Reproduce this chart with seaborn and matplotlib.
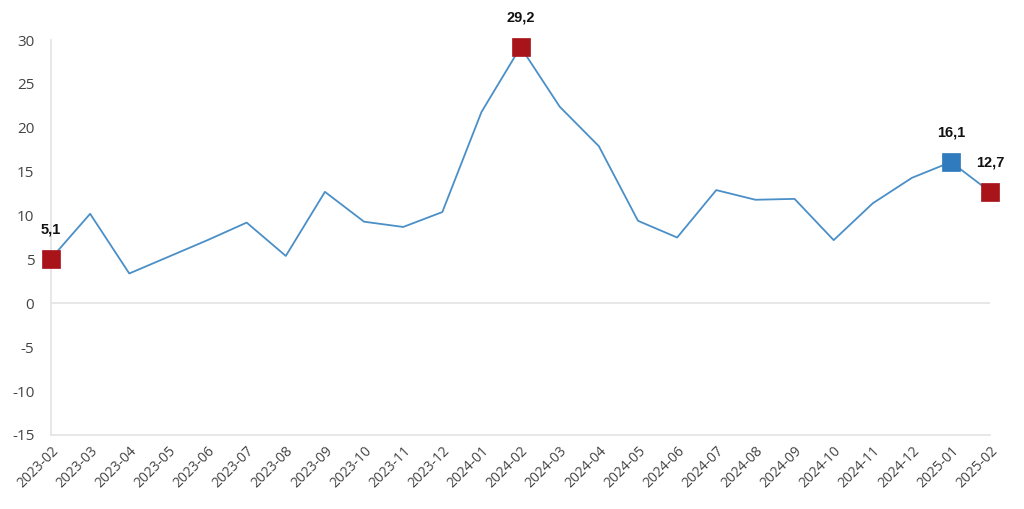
import pandas as pd
import seaborn as sns
import matplotlib.pyplot as plt

months = [
    "2023-02", "2023-03", "2023-04", "2023-05", "2023-06", "2023-07",
    "2023-08", "2023-09", "2023-10", "2023-11", "2023-12", "2024-01",
    "2024-02", "2024-03", "2024-04", "2024-05", "2024-06", "2024-07",
    "2024-08", "2024-09", "2024-10", "2024-11", "2024-12", "2025-01",
    "2025-02"
]

values = [
    5.1, 10.2, 3.4, 5.3, 7.2, 9.2,
    5.4, 12.7, 9.3, 8.7, 10.4, 21.8,
    29.2, 22.4, 17.9, 9.4, 7.5, 12.9,
    11.8, 11.9, 7.2, 11.4, 14.3, 16.1,
    12.7
]

highlight_red = ["2023-02", "2024-02", "2025-02"]
highlight_blue = ["2025-01"]

df = pd.DataFrame({"month": months, "value": values})
df["pos"] = range(len(df))

sns.set_style("white")
plt.rcParams["font.family"] = ["Open Sans", "DejaVu Sans"]
plt.rcParams["axes.unicode_minus"] = False

fig = plt.figure(figsize=(10.24, 5.09), dpi=100)
ax = fig.add_axes([0.0498, 0.1454, 0.9172, 0.776])

ax.axhline(0, color="#e3e3e3", linewidth=1.2, zorder=1)

sns.lineplot(
    data=df,
    x="pos",
    y="value",
    color="#4a8fc7",
    linewidth=1.3,
    ax=ax,
    zorder=2
)

for names, col in [(highlight_red, "#a9141b"), (highlight_blue, "#2f7bbd")]:
    sub = df[df["month"].isin(names)]
    sns.scatterplot(
        data=sub,
        x="pos",
        y="value",
        marker="s",
        s=170,
        color=col,
        edgecolor=col,
        linewidth=0.5,
        ax=ax,
        zorder=3,
        clip_on=False
    )
    for _, r in sub.iterrows():
        ax.annotate(
            f"{r['value']:.1f}".replace(".", ","),
            (r["pos"], r["value"]),
            xytext=(0, 21),
            textcoords="offset points",
            ha="center",
            va="center",
            fontsize=10.5,
            fontweight="bold",
            family=["Liberation Sans", "DejaVu Sans"],
            color="#111111",
            annotation_clip=False
        )

ax.set_xlim(0, len(months) - 1)
ax.set_ylim(-15, 30)
ax.set_yticks(range(-15, 31, 5))
ax.set_xticks(df["pos"])
ax.set_xticklabels(months, rotation=45, ha="right", rotation_mode="anchor")
ax.tick_params(axis="both", length=0, colors="#444444")
ax.tick_params(axis="y", pad=12, labelsize=11)
ax.tick_params(axis="x", pad=6, labelsize=10)

ax.set_xlabel("")
ax.set_ylabel("")

for side in ["top", "right"]:
    ax.spines[side].set_visible(False)
for side in ["left", "bottom"]:
    ax.spines[side].set_color("#e3e3e3")
    ax.spines[side].set_linewidth(1.2)

fig.savefig("out.png", dpi=100)
